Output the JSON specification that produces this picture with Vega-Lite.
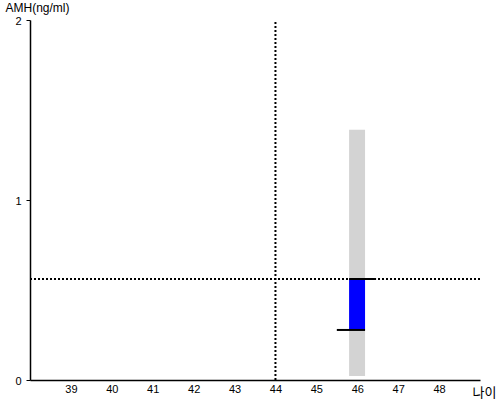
{
  "$schema": "https://vega.github.io/schema/vega-lite/v6.json",
  "width": 450,
  "height": 360,
  "autosize": "none",
  "padding": {"left": 30, "top": 20, "right": 20, "bottom": 20},
  "background": "white",
  "config": {
    "view": {"stroke": null},
    "font": "Liberation Sans",
    "axis": {"grid": false, "domainColor": "black", "tickColor": "black", "labelColor": "black", "labelFont": "Liberation Sans", "labelFontSize": 11, "titleFont": "Liberation Sans", "titleFontWeight": "normal", "titleColor": "black"}
  },
  "layer": [
    {
      "data": {"values": [{"age": 46, "x0": 45.8, "x1": 46.19, "lo": 0.022, "hi": 1.39}]},
      "mark": {"type": "rect", "color": "#d3d3d3"},
      "encoding": {
        "x": {"field": "x0", "type": "quantitative", "scale": {"domain": [38, 49], "nice": false, "zero": false},
          "axis": {"values": [39, 40, 41, 42, 43, 44, 45, 46, 47, 48], "format": ".0f", "ticks": false, "labelPadding": 3, "domainWidth": 1.5,
            "title": "나이", "titleFont": "Noto Sans CJK KR", "titleFontSize": 13, "titleX": 442, "titleY": 12, "titleAlign": "left", "titleBaseline": "middle", "titleAnchor": null}},
        "x2": {"field": "x1"},
        "y": {"field": "lo", "type": "quantitative", "scale": {"domain": [0, 2], "nice": false},
          "axis": {"values": [0, 1, 2], "format": ".0f", "tickSize": 4, "labelPadding": 5, "domainWidth": 1.5, "labelOverlap": false, "labelOffset": 1,
            "title": "AMH(ng/ml)", "titleAngle": 0, "titleFontSize": 12, "titleX": -25, "titleY": -13, "titleAlign": "left", "titleBaseline": "middle", "titleAnchor": null}},
        "y2": {"field": "hi"}
      }
    },
    {
      "data": {"values": [{"x0": 45.8, "x1": 46.19, "lo": 0.278, "hi": 0.561}]},
      "mark": {"type": "rect", "color": "#0000ff"},
      "encoding": {
        "x": {"field": "x0", "type": "quantitative"},
        "x2": {"field": "x1"},
        "y": {"field": "lo", "type": "quantitative"},
        "y2": {"field": "hi"}
      }
    },
    {
      "data": {"values": [{"x0": 45.8, "x1": 46.46, "v": 0.561}, {"x0": 45.5, "x1": 46.19, "v": 0.278}]},
      "mark": {"type": "rule", "color": "black", "strokeWidth": 2},
      "encoding": {
        "x": {"field": "x0", "type": "quantitative"},
        "x2": {"field": "x1"},
        "y": {"field": "v", "type": "quantitative"}
      }
    },
    {
      "data": {"values": [{"age": 44, "lo": 0, "hi": 2}]},
      "mark": {"type": "rule", "color": "black", "strokeWidth": 2, "strokeDash": [2, 2]},
      "encoding": {
        "x": {"field": "age", "type": "quantitative"},
        "y": {"field": "lo", "type": "quantitative"},
        "y2": {"field": "hi"}
      }
    },
    {
      "data": {"values": [{"x0": 38, "x1": 49, "v": 0.561}]},
      "mark": {"type": "rule", "color": "black", "strokeWidth": 2, "strokeDash": [2, 2]},
      "encoding": {
        "x": {"field": "x0", "type": "quantitative"},
        "x2": {"field": "x1"},
        "y": {"field": "v", "type": "quantitative"}
      }
    }
  ]
}
